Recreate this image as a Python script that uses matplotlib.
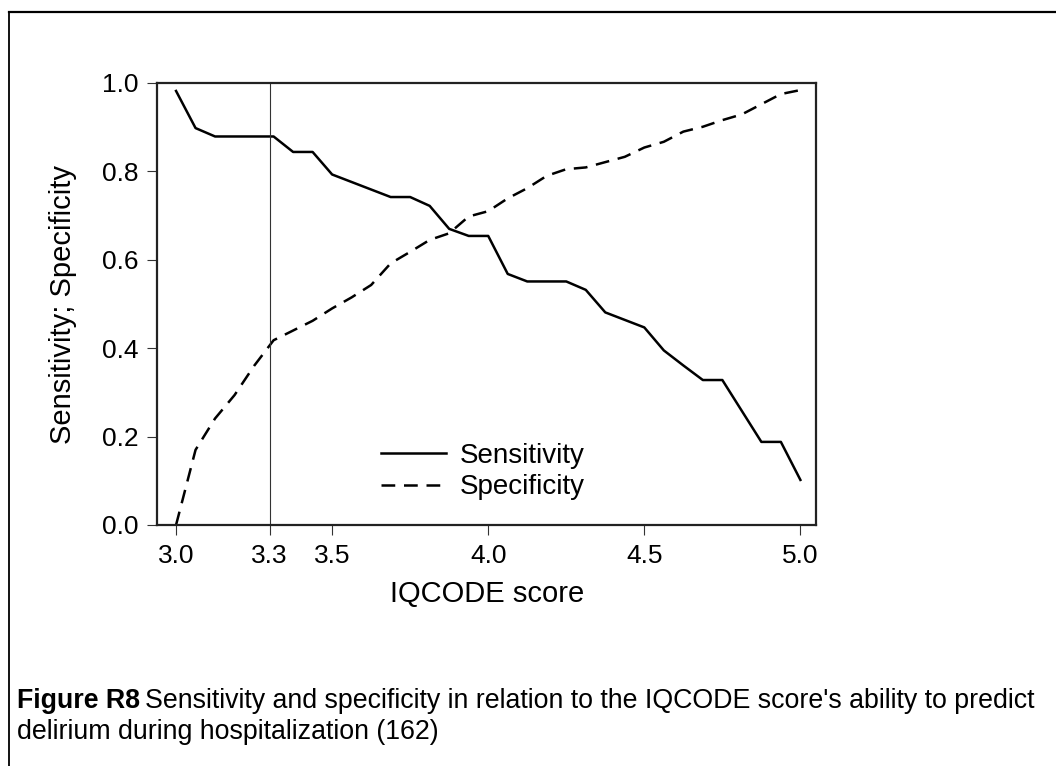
import matplotlib
matplotlib.use("Agg")
import matplotlib.pyplot as plt
from matplotlib.lines import Line2D

# IQCODE score thresholds (steps of 1/16 from 3.0 to 5.0)
scores = [3.0 + k / 16 for k in range(33)]

sensitivity = [0.982, 0.898, 0.879, 0.879, 0.879, 0.879, 0.844, 0.844, 0.793,
               0.776, 0.759, 0.742, 0.742, 0.722, 0.670, 0.654, 0.654, 0.568,
               0.551, 0.551, 0.551, 0.532, 0.481, 0.464, 0.447, 0.395, 0.361,
               0.328, 0.328, 0.258, 0.188, 0.188, 0.102]

specificity = [0.000, 0.170, 0.241, 0.294, 0.360, 0.418, 0.440, 0.462, 0.490,
               0.515, 0.543, 0.592, 0.618, 0.645, 0.660, 0.698, 0.710, 0.739,
               0.762, 0.790, 0.805, 0.809, 0.821, 0.833, 0.854, 0.867, 0.890,
               0.901, 0.916, 0.929, 0.952, 0.975, 0.984]

xticks = [3.0, 3.3, 3.5, 4.0, 4.5, 5.0]
yticks = [0.0, 0.2, 0.4, 0.6, 0.8, 1.0]
cutoff = 3.3

plt.rcParams["font.family"] = ["Liberation Sans", "DejaVu Sans"]

W, H = 1056, 766
fig = plt.figure(figsize=(W / 100, H / 100), dpi=100)
ax = fig.add_axes([157 / W, 1 - 525 / H, (816 - 157) / W, (525 - 83) / H])

ax.plot(scores, sensitivity, color="black", lw=1.8, label="Sensitivity")
ax.plot(scores, specificity, color="black", lw=1.8, dashes=(5.5, 3.5),
        label="Specificity")
ax.axvline(cutoff, color="#333333", lw=0.8)

ax.set_xlim(2.939, 5.05)
ax.set_ylim(0, 1)
ax.set_xticks(xticks)
ax.set_xticklabels([f"{t:.1f}" for t in xticks])
ax.set_yticks(yticks)
ax.set_yticklabels([f"{t:.1f}" for t in yticks])
ax.tick_params(axis="both", direction="out", length=7.5, width=0.8,
               color="#333333", labelsize=19, pad=6)
for sp in ax.spines.values():
    sp.set_linewidth(1.6)
    sp.set_color("#222222")

ax.legend(loc="center left", bbox_to_anchor=(381 / W, 1 - 471.5 / H),
          bbox_transform=fig.transFigure, frameon=False, fontsize=20,
          handlelength=2.35, handletextpad=0.5, labelspacing=0.2,
          borderpad=0, borderaxespad=0)

fig.text(63 / W, 1 - 304 / H, "Sensitivity; Specificity", rotation=90,
         ha="center", va="center", fontsize=21)
fig.text(487 / W, 1 - 594 / H, "IQCODE score", ha="center", va="center",
         fontsize=21)

# caption with bold lead-in
cap_size = 19.3
t1 = fig.text(17 / W, 1 - 708 / H, "Figure R8", fontsize=cap_size,
              fontweight="bold", va="baseline")
renderer = fig.canvas.get_renderer()
bb = t1.get_window_extent(renderer)
fig.text((bb.x1 + 5) / W, 1 - 708 / H,
         "Sensitivity and specificity in relation to the IQCODE score's ability to predict",
         fontsize=cap_size, va="baseline")
fig.text(17 / W, 1 - 739 / H, "delirium during hospitalization (162)",
         fontsize=cap_size, va="baseline")

# outer frame (top and left edges)
fig.add_artist(Line2D([9.3 / W, 1], [1 - 11.7 / H, 1 - 11.7 / H],
                      transform=fig.transFigure, color="black", lw=1.6))
fig.add_artist(Line2D([9.3 / W, 9.3 / W], [0, 1 - 11.7 / H],
                      transform=fig.transFigure, color="black", lw=1.3))

fig.savefig("out.png", dpi=100)
plt.close(fig)
